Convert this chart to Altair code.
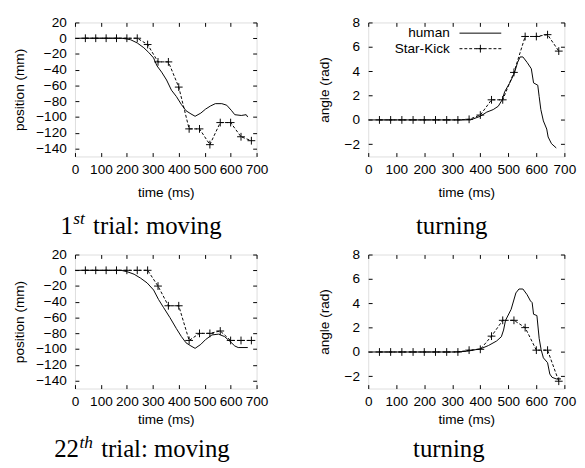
import altair as alt
import pandas as pd

FONT = "Liberation Sans"
SERIF = "Liberation Serif"
FS = 14
CAP_FS = 25.5
TICK = 4
PLUS = "M-1,0L1,0M0,-1L0,1"

# ---------- shared axes ----------
X_TICKS = [0, 100, 200, 300, 400, 500, 600, 700]
POS_TICKS = [20, 0, -20, -40, -60, -80, -100, -120, -140]
ANG_TICKS = [8, 6, 4, 2, 0, -2]
POS_DOMAIN = [-150, 20]
ANG_DOMAIN = [-3, 8]
SK_T = [40, 80, 120, 160, 200, 240, 280, 320, 360, 400, 440, 480, 520, 560, 600, 640, 680]
LEGEND = ["human", "Star-Kick"]

# captions: [number, superscript, rest]
CAP_1M = ["1", "st", "trial: moving"]
CAP_22M = ["22", "th", "trial: moving"]
CAP_T = "turning"

# ---------- 1st trial: moving ----------
H1M_T = [0, 100, 180, 200, 215, 240, 265, 284, 303, 316, 334, 353, 372, 391, 410, 428, 447, 463,
         485, 503, 522, 541, 566, 585, 604, 616, 641, 660, 666]
H1M_V = [0, 0, 0, -1, -2, -6, -12, -18, -25, -35, -43, -53, -66, -74, -84, -92, -96, -99,
         -95, -90, -86, -83, -83, -85, -92, -97, -98, -97, -100]
S1M_V = [0, 0, 0, 0, 0, 0, -8, -30, -30, -62, -115, -115, -135, -107, -107, -125, -130]

# ---------- 1st trial: turning ----------
H1T_T = [0, 100, 200, 300, 365, 400, 423, 446, 464, 478, 487, 504, 521, 533, 542, 552, 567, 582,
         590, 605, 610, 616, 625, 637, 642, 654, 671]
H1T_V = [0, 0, 0, 0, 0, 0.3, 0.64, 0.85, 1.12, 1.65, 2.32, 3.0, 3.8, 4.72, 5.17, 5.17, 4.72, 4.2,
         3.04, 2.85, 1.92, 0.85, -0.08, -0.75, -1.4, -1.95, -2.3]
S1T_V = [0, 0, 0, 0, 0, 0, 0, 0, 0.05, 0.4, 1.65, 1.65, 3.9, 6.85, 6.85, 7.0, 5.65]

# ---------- 22nd trial: moving ----------
H22M_T = [0, 100, 178, 203, 228, 253, 278, 303, 322, 341, 366, 391, 410, 428, 447, 463, 485, 503,
          528, 553, 576, 597, 616, 629, 666]
H22M_V = [0, 0, 0, -2, -5, -10, -16, -25, -37, -47, -60, -74, -84, -92, -96, -99, -94, -88,
          -82, -81, -84, -90, -96, -98, -98]
S22M_V = [0, 0, 0, 0, 0, 0, 0, -20, -45, -45, -89, -80, -80, -77, -89, -89, -89]

# ---------- 22nd trial: turning ----------
H22T_T = [0, 100, 200, 300, 350, 402, 429, 458, 475, 483, 490, 510, 527, 538, 552, 567, 579, 585,
          590, 602, 610, 617, 625, 640, 648, 656, 671, 688]
H22T_V = [0, 0, 0, 0, 0.05, 0.27, 0.53, 0.9, 1.25, 1.8, 2.6, 3.5, 4.85, 5.17, 5.17, 4.7, 4.19, 4.05,
          3.1, 2.99, 1.12, 0.19, -0.48, -0.88, -1.81, -2.08, -2.21, -2.21]
S22T_V = [0, 0, 0, 0, 0, 0, 0, 0, 0.15, 0.22, 1.3, 2.6, 2.6, 2.0, 0.15, 0.15, -2.4]

# Times-compatible advance widths (per 1000 em) used to lay out the captions
ADV = {"1": 500, "2": 500, "s": 389, "t": 278, "h": 500, "r": 333, "i": 278, "a": 444,
       "l": 278, ":": 278, " ": 250, "m": 778, "o": 500, "v": 500, "n": 500, "g": 500, "u": 500}


def tw(s, fs):
    return sum(ADV[c] for c in s) * fs / 1000.0


def text_layer(txt, x, y, fs, align="left", italic=False):
    d = pd.DataFrame({"label": [txt]})
    kw = dict(align=align, baseline="alphabetic", font=SERIF, fontSize=fs, color="black")
    if italic:
        kw["fontStyle"] = "italic"
    return alt.Chart(d).mark_text(**kw).encode(x=alt.value(x), y=alt.value(y), text="label:N")


def caption_layers(cap, cx, base_y):
    if isinstance(cap, str):
        return [text_layer(cap, cx, base_y, CAP_FS, align="center")]
    num, sup, rest = cap
    sfs = CAP_FS * 0.7
    w_num, w_sup, w_sp, w_rest = tw(num, CAP_FS), tw(sup, sfs), tw(" ", CAP_FS) * 1.4, tw(rest, CAP_FS)
    left = cx - (w_num + w_sup + w_sp + w_rest) / 2.0
    return [
        text_layer(num, left, base_y, CAP_FS),
        text_layer(sup, left + w_num + 0.5, base_y - 9.5, sfs, italic=True),
        text_layer(rest, left + w_num + w_sup + w_sp, base_y, CAP_FS),
    ]


def panel(ht, hv, skv, ydom, yticks, ytitle, width, caption, cap_cx, cap_y, ytp, lpad, tpad,
          legend=False):
    hum = pd.DataFrame({"t": ht, "v": hv})
    sk = pd.DataFrame({"t": SK_T, "v": skv})
    xs = alt.Scale(domain=[0, 700], nice=False, zero=False)
    ys = alt.Scale(domain=ydom, nice=False, zero=False)
    ax = dict(domain=False, grid=False, tickColor="black", tickSize=TICK, tickWidth=1,
              offset=-TICK, labelFont=FONT, labelFontSize=FS, labelColor="black",
              titleFont=FONT, titleFontSize=FS, titleFontWeight="normal", titleColor="black",
              labelFlush=False, labelOverlap=False)
    human = alt.Chart(hum).mark_line(color="black", strokeWidth=1).encode(
        x=alt.X("t:Q", scale=xs, title="time (ms)",
                axis=alt.Axis(orient="bottom", values=X_TICKS, labelPadding=lpad, titlePadding=tpad, **ax)),
        y=alt.Y("v:Q", scale=ys, title=ytitle,
                axis=alt.Axis(orient="left", values=yticks, labelPadding=9, titlePadding=ytp, **ax)),
    )
    skl = alt.Chart(sk).mark_line(color="black", strokeWidth=1, strokeDash=[3, 2]).encode(
        x=alt.X("t:Q", scale=xs, title=None,
                axis=alt.Axis(orient="top", values=X_TICKS, labels=False, **ax)),
        y=alt.Y("v:Q", scale=ys, title=None,
                axis=alt.Axis(orient="right", values=yticks, labels=False, **ax)),
    )
    skp = alt.Chart(sk).mark_point(shape=PLUS, filled=False, color="black", strokeWidth=1,
                                   size=64, opacity=1).encode(
        x=alt.X("t:Q", scale=xs, axis=None),
        y=alt.Y("v:Q", scale=ys, axis=None),
    )
    layers = [human, skl, skp]
    if legend:
        d1 = pd.DataFrame({"label": [LEGEND[0]]})
        d2 = pd.DataFrame({"label": [LEGEND[1]]})
        layers += [
            alt.Chart(d1).mark_text(align="right", baseline="middle", font=FONT, fontSize=FS,
                                    color="black").encode(x=alt.value(84), y=alt.value(11), text="label:N"),
            alt.Chart(d2).mark_text(align="right", baseline="middle", font=FONT, fontSize=FS,
                                    color="black").encode(x=alt.value(84), y=alt.value(27), text="label:N"),
            alt.Chart(d1).mark_rule(color="black", strokeWidth=1).encode(
                x=alt.value(94), x2=alt.value(137), y=alt.value(11)),
            alt.Chart(d2).mark_rule(color="black", strokeWidth=1, strokeDash=[3, 2]).encode(
                x=alt.value(94), x2=alt.value(137), y=alt.value(27)),
            alt.Chart(d2).mark_point(shape=PLUS, filled=False, color="black", strokeWidth=1,
                                     size=64, opacity=1).encode(x=alt.value(115.5), y=alt.value(27)),
        ]
    layers += caption_layers(caption, cap_cx, cap_y)
    return alt.layer(*layers).resolve_axis(x="independent", y="independent").properties(
        width=width, height=138)


tl = panel(H1M_T, H1M_V, S1M_V, POS_DOMAIN, POS_TICKS, "position (mm)", 187,
           CAP_1M, 68, 217.5, 10, 7, 9)
tr = panel(H1T_T, H1T_V, S1T_V, ANG_DOMAIN, ANG_TICKS, "angle (rad)", 202,
           CAP_T, 86, 217.5, 13, 7, 9, legend=True)
bl = panel(H22M_T, H22M_V, S22M_V, POS_DOMAIN, POS_TICKS, "position (mm)", 187,
           CAP_22M, 69, 208.5, 10, 6, 5)
br = panel(H22T_T, H22T_V, S22T_V, ANG_DOMAIN, ANG_TICKS, "angle (rad)", 202,
           CAP_T, 83, 208.5, 13, 6, 5)

chart = alt.vconcat(
    alt.hconcat(tl, tr, spacing=49),
    alt.hconcat(bl, br, spacing=49),
    spacing=7,
).properties(
    padding={"left": 3, "top": 0, "right": 0, "bottom": 0}
).configure_view(stroke="black", strokeWidth=1).configure(background="white")

chart.save("out.html", embed_options={"renderer": "svg", "actions": False})
